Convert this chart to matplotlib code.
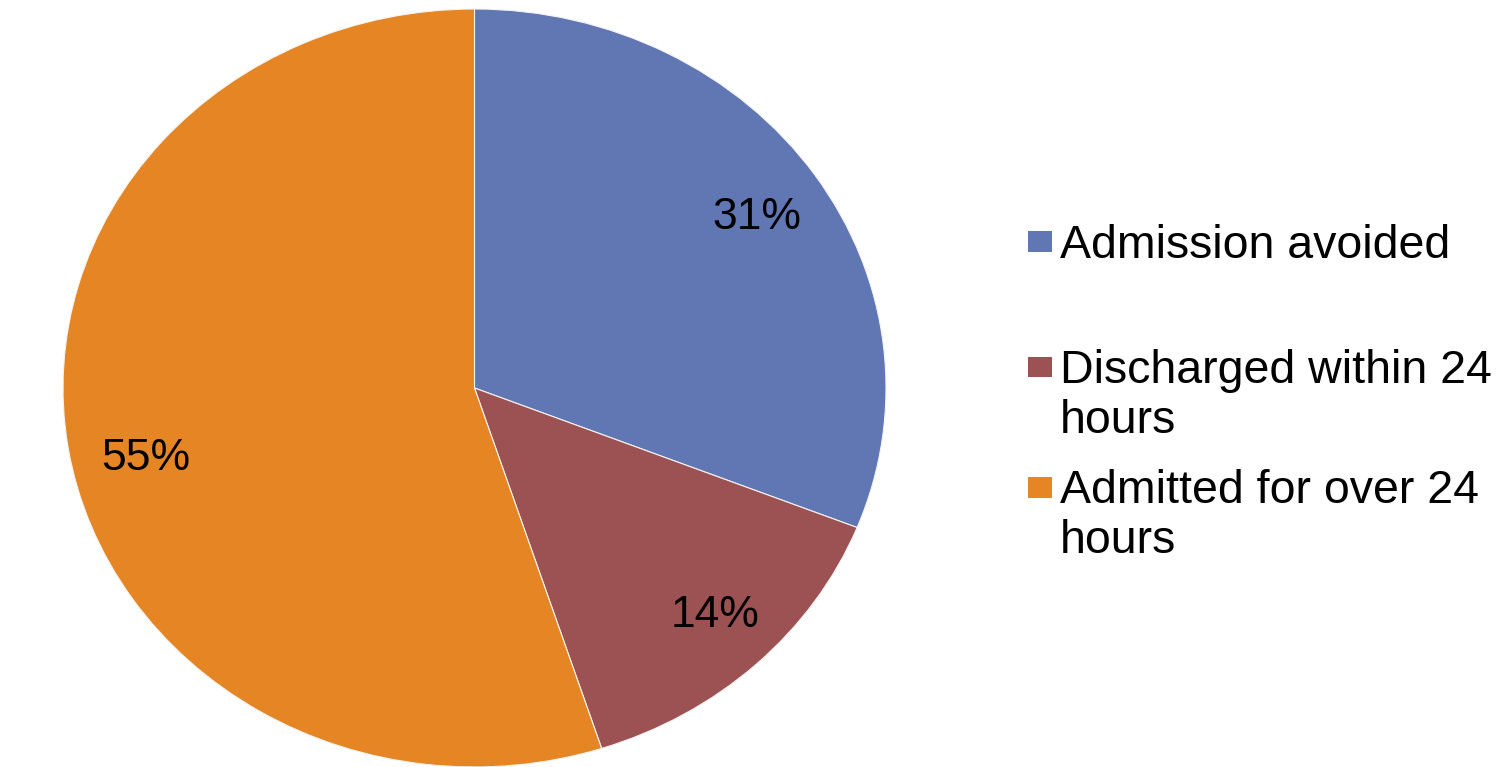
import matplotlib.pyplot as plt
from matplotlib.patches import Rectangle

# data
labels = ["Admission avoided", "Discharged within 24\nhours", "Admitted for over 24\nhours"]
shares = [31, 14, 55]
colors = ["#6077B4", "#9C5252", "#E68523"]

plt.rcParams['font.family'] = ['Liberation Sans', 'DejaVu Sans']

W, H = 1498, 767
fig = plt.figure(figsize=(W / 100, H / 100), dpi=100)

# pie is slightly stretched sideways in the original, so use an axes box of that shape
ax = fig.add_axes([63 / W, 0, 823 / W, 758 / H])
wedges, texts, autotexts = ax.pie(
    shares, colors=colors, startangle=90, counterclock=False,
    autopct='%1.0f%%', pctdistance=0.82,
    wedgeprops=dict(edgecolor='#f4f4f4', linewidth=0.8),
    textprops=dict(fontsize=32, color='black'))
ax.set_aspect('auto')
ax.set_xlim(-1, 1)
ax.set_ylim(-1, 1)

# excel "best fit" label spots
autotexts[0].set_position((0.686, 0.449))
autotexts[1].set_position((0.584, -0.599))
autotexts[2].set_position((-0.798, -0.185))

# legend drawn by hand so the marker sits on the first line like excel
first_base = [258, 383, 503]
line_gap = 50
for lab, col, base in zip(labels, colors, first_base):
    for i, line in enumerate(lab.split('\n')):
        y = base + i * line_gap
        fig.text(1060 / W, 1 - y / H, line, fontsize=33.5, va='baseline', ha='left')
    cy = base - 16
    fig.add_artist(Rectangle((1028 / W, 1 - (cy + 10.5) / H), 24 / W, 21 / H,
                             transform=fig.transFigure, facecolor=col, edgecolor='none'))

fig.savefig('out.png', dpi=100)
